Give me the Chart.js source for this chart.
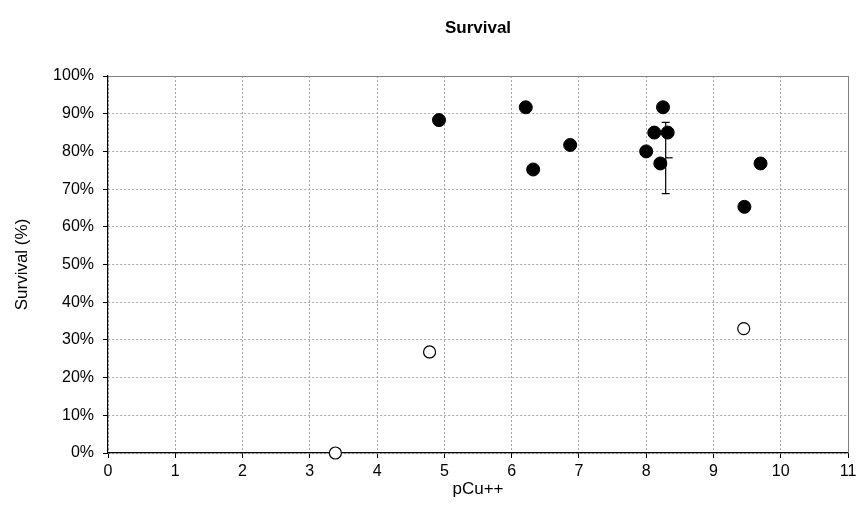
<!DOCTYPE html>
<html>
<head>
<meta charset="utf-8">
<script src="https://cdn.jsdelivr.net/npm/chart.js@4/dist/chart.umd.min.js"></script>
<style>
html,body{margin:0;padding:0;background:#fff;}
#wrap{width:861px;height:526px;}
</style>
</head>
<body>
<div id="wrap"><canvas id="c" width="861" height="526"></canvas></div>
<script>
// pCu++ values and survival (%)
const filledX = [4.92, 6.21, 6.32, 6.87, 8.00, 8.12, 8.21, 8.25, 8.32, 9.46, 9.70];
const filledY = [88.3, 91.7, 75.2, 81.7, 80.0, 85.0, 76.8, 91.7, 85.0, 65.3, 76.8];
const openX = [3.38, 4.78, 9.45];
const openY = [0, 26.8, 33.0];
// mean with error bar
const errX = [8.29];
const errMean = [78.3];
const errLow = [68.8];
const errHigh = [87.7];
const xTicks = [0,1,2,3,4,5,6,7,8,9,10,11];
const yTicks = [0,10,20,30,40,50,60,70,80,90,100];

const FONT = "'Liberation Sans', Arial, sans-serif";
const pts = (xs, ys) => xs.map((x, i) => ({x: x, y: ys[i]}));

const frame = {
  id: 'frame',
  afterDraw(chart) {
    const a = chart.chartArea, ctx = chart.ctx;
    ctx.save();
    ctx.strokeStyle = '#808080';
    ctx.lineWidth = 1;
    ctx.beginPath();
    ctx.moveTo(a.left, Math.round(a.top) + 0.5);
    ctx.lineTo(Math.round(a.right) + 0.5, Math.round(a.top) + 0.5);
    ctx.lineTo(Math.round(a.right) + 0.5, a.bottom);
    ctx.stroke();
    ctx.restore();
  }
};

new Chart(document.getElementById('c'), {
  type: 'scatter',
  data: {
    datasets: [
      {
        label: 'error',
        xAxisID: 'x', yAxisID: 'y',
        data: [{x: errX[0], y: errLow[0]}, {x: errX[0], y: errHigh[0]}],
        showLine: true,
        borderColor: '#000',
        borderWidth: 1.2,
        pointStyle: 'line',
        pointRadius: 4,
        pointBorderColor: '#000',
        pointBorderWidth: 1.2,
        clip: false
      },
      {
        label: 'mean',
        xAxisID: 'x', yAxisID: 'y',
        data: pts(errX, errMean),
        pointStyle: 'dash',
        pointRadius: 7,
        pointBorderColor: '#000',
        pointBorderWidth: 1.2,
        clip: false
      },
      {
        label: 'filled',
        xAxisID: 'x', yAxisID: 'y',
        data: pts(filledX, filledY),
        pointRadius: 6.5,
        pointBackgroundColor: '#000',
        pointBorderColor: '#000',
        pointBorderWidth: 1,
        clip: false
      },
      {
        label: 'open',
        xAxisID: 'x', yAxisID: 'y',
        data: pts(openX, openY),
        pointRadius: 6,
        pointBackgroundColor: '#fff',
        pointBorderColor: '#000',
        pointBorderWidth: 1.2,
        clip: false
      }
    ]
  },
  options: {
    responsive: false,
    animation: false,
    layout: {padding: {left: 0, right: 13, top: 0, bottom: 0}},
    plugins: {
      legend: {display: false},
      tooltip: {enabled: false},
      title: {display: false}
    },
    scales: {
      x: {
        type: 'linear',
        position: 'bottom',
        min: 0, max: 11,
        afterBuildTicks(s) { s.ticks = xTicks.map(v => ({value: v})); },
        afterFit(s) { s.height = 73; },
        ticks: {color: '#000', font: {family: FONT, size: 16}, padding: 4, maxRotation: 0},
        grid: {color: '#a8a8a8', tickColor: '#000', tickLength: 5, tickBorderDash: []},
        border: {display: true, color: '#000', width: 1.2, dash: [2, 2]},
        title: {display: true, text: 'pCu++', color: '#000', font: {family: FONT, size: 17}, padding: {top: 0, bottom: 26}}
      },
      top: {
        type: 'linear',
        position: 'top',
        min: 0, max: 11,
        afterFit(s) { s.height = 76; },
        ticks: {display: false},
        grid: {display: false, drawTicks: false},
        border: {display: false},
        title: {display: true, text: 'Survival', color: '#000', font: {family: FONT, size: 17, weight: 'bold'}, padding: {top: 18, bottom: 0}}
      },
      y: {
        type: 'linear',
        min: 0, max: 100,
        afterBuildTicks(s) { s.ticks = yTicks.map(v => ({value: v})); },
        afterFit(s) { s.width = 108; },
        ticks: {color: '#000', font: {family: FONT, size: 16}, padding: 9, callback: v => v + '%'},
        grid: {color: '#a8a8a8', tickColor: '#000', tickLength: 5, tickBorderDash: []},
        border: {display: true, color: '#000', width: 1.2, dash: [2, 2]},
        title: {display: true, text: 'Survival (%)', color: '#000', font: {family: FONT, size: 17}, padding: {top: 12, bottom: 0}}
      }
    }
  },
  plugins: [frame]
});
</script>
</body>
</html>
